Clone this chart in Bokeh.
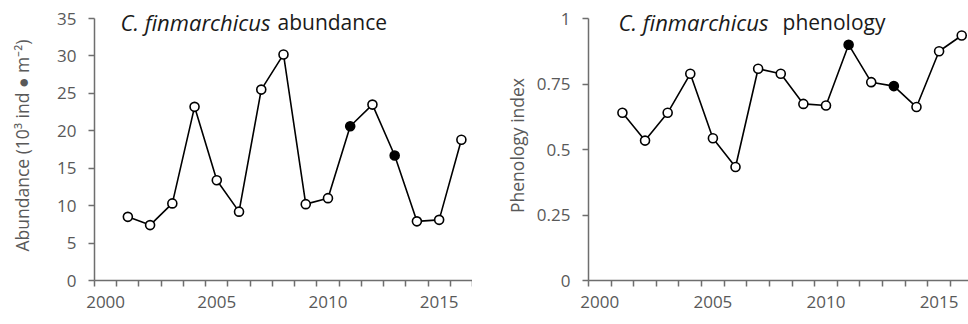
from bokeh.plotting import figure
from bokeh.layouts import row
from bokeh.models import FixedTicker, Label, Range1d
from bokeh.embed import file_html
from bokeh.resources import INLINE

years = [2001, 2002, 2003, 2004, 2005, 2006, 2007, 2008,
         2009, 2010, 2011, 2012, 2013, 2014, 2015, 2016]
abundance = [8.5, 7.4, 10.3, 23.2, 13.4, 9.2, 25.5, 30.2,
             10.2, 11.0, 20.6, 23.5, 16.7, 7.9, 8.1, 18.8]
phenology = [0.640, 0.534, 0.640, 0.789, 0.543, 0.433, 0.808, 0.789,
             0.674, 0.668, 0.900, 0.757, 0.742, 0.662, 0.875, 0.935]
filled_years = [2011, 2013]
x_label_years = [2000, 2005, 2010, 2015]
abund_ticks = [0, 5, 10, 15, 20, 25, 30, 35]
phen_ticks = [0, 0.25, 0.5, 0.75, 1]
phen_tick_labels = ["0", "0.25", "0.5", "0.75", "1"]

FONT = "Open Sans"
TXT = "#595959"
AX = "#6e6e6e"

FRAME_H = 270      # frame from y=10 to y=280
AXIS_H = 262       # axis line drawn from y=18 to y=280


def make_panel(vals, yticks, ylabels, ymax, xend, width, border_left, ylabel,
               label_standoff, title_it, title_rest, tx_it, tx_rest, ty):
    ytop = ymax * FRAME_H / AXIS_H
    p = figure(width=width, height=324, output_backend="svg", toolbar_location=None,
               x_range=Range1d(2000, xend), y_range=Range1d(0, ytop),
               min_border_left=border_left, min_border_right=0,
               min_border_top=10, min_border_bottom=44)
    p.outline_line_color = None
    p.xgrid.grid_line_color = None
    p.ygrid.grid_line_color = None
    p.background_fill_color = "white"
    p.border_fill_color = "white"

    xs = [y + 0.5 for y in years]
    p.line(xs, vals, line_color="black", line_width=1.6)
    fill = ["black" if y in filled_years else "white" for y in years]
    p.scatter(xs, vals, size=9, marker="circle", fill_color=fill,
              line_color="black", line_width=1.6)

    # x axis
    xa = p.xaxis[0]
    xa.ticker = FixedTicker(ticks=[y + 0.5 for y in x_label_years],
                            minor_ticks=list(range(2000, 2018)))
    xa.major_label_overrides = {y + 0.5: str(y) for y in x_label_years}
    xa.major_tick_line_color = None
    xa.minor_tick_line_color = AX
    xa.minor_tick_line_width = 1.5
    xa.minor_tick_out = 6
    xa.minor_tick_in = 0
    xa.axis_line_color = AX
    xa.axis_line_width = 1.5
    xa.major_label_text_font = FONT
    xa.major_label_text_font_size = "17px"
    xa.major_label_text_color = TXT
    xa.major_label_standoff = 9

    # y axis
    ya = p.yaxis[0]
    ya.bounds = (0, ymax)
    ya.ticker = FixedTicker(ticks=yticks, minor_ticks=[])
    ya.major_label_overrides = {t: l for t, l in zip(yticks, ylabels)}
    ya.major_tick_line_color = AX
    ya.major_tick_line_width = 1.5
    ya.major_tick_out = 6
    ya.major_tick_in = 0
    ya.axis_line_color = AX
    ya.axis_line_width = 1.5
    ya.major_label_text_font = FONT
    ya.major_label_text_font_size = "17px"
    ya.major_label_text_color = TXT
    ya.major_label_standoff = 12
    ya.axis_label = ylabel
    ya.axis_label_text_font = FONT
    ya.axis_label_text_font_size = "17.5px"
    ya.axis_label_text_font_style = "normal"
    ya.axis_label_text_color = TXT
    ya.axis_label_standoff = label_standoff

    p.add_layout(Label(x=tx_it, y=ty, text=title_it, text_font=FONT,
                       text_font_style="italic", text_font_size="22px",
                       text_color="#1a1a1a", text_baseline="alphabetic"))
    p.add_layout(Label(x=tx_rest, y=ty, text=title_rest, text_font=FONT,
                       text_font_size="21px", text_color="#1a1a1a",
                       text_baseline="alphabetic"))
    return p


p1 = make_panel(abundance, abund_ticks, [str(t) for t in abund_ticks], 35, 2017,
                472, 94, "Abundance (10³ ind ● m⁻²)", 20,
                "C. finmarchicus", "abundance", 2001.17, 2008.23, 34.5)
p2 = make_panel(phenology, phen_ticks, phen_tick_labels, 1, 2016.8,
                496, 116, "Phenology index", 5,
                "C. finmarchicus", "phenology", 2001.33, 2008.58, 0.986)

layout = row(p1, p2, spacing=0)
open("out.html", "w").write(file_html(layout, INLINE))
